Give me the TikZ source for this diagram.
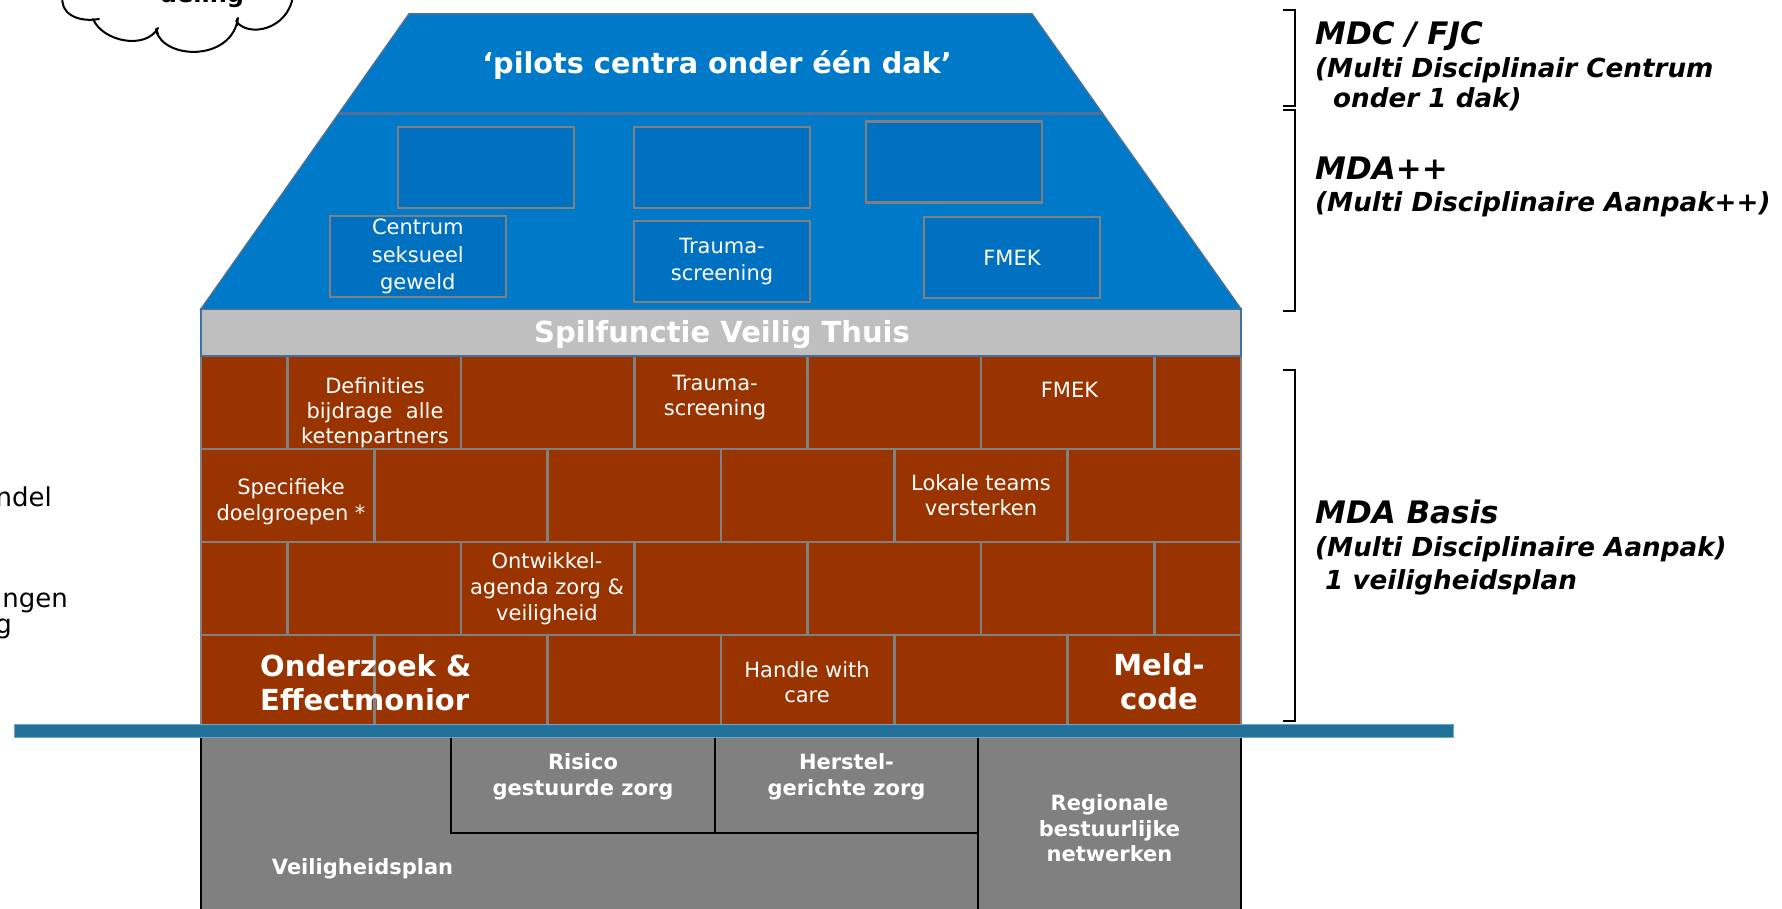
\documentclass[tikz,border=0pt]{standalone}
\usepackage{fontspec}
\setmainfont{DejaVu Sans}[BoldFont={DejaVu Sans Bold},ItalicFont={DejaVu Sans Oblique},BoldItalicFont={DejaVu Sans Bold Oblique}]
\definecolor{roofblue}{RGB}{0,122,200}
\definecolor{boxblue}{RGB}{0,112,192}
\definecolor{boxgray}{RGB}{128,128,128}
\definecolor{roofedge}{RGB}{65,113,156}
\definecolor{midline}{RGB}{80,112,150}
\definecolor{bandgray}{RGB}{191,191,191}
\definecolor{brickred}{RGB}{153,51,0}
\definecolor{brickgray}{RGB}{128,128,128}
\definecolor{fndgray}{RGB}{128,128,128}
\definecolor{groundblue}{RGB}{33,113,153}
\definecolor{groundedge}{RGB}{110,165,200}
\begin{document}
\begin{tikzpicture}[x=1pt,y=-1pt,
  roofbox/.style={draw=boxgray, line width=2.5pt, fill=boxblue, minimum width=176pt, minimum height=81pt, inner sep=0pt, text=white, font=\fontsize{21}{27.5}\selectfont, align=center},
  bricktxt/.style={text=white, font=\fontsize{21}{25}\selectfont, align=center, inner sep=0pt},
  bigtxt/.style={text=white, font=\bfseries\fontsize{29}{34}\selectfont, inner sep=0pt},
  fndtxt/.style={text=white, font=\bfseries\fontsize{21}{26.5}\selectfont, align=center, inner sep=0pt},
  sidehead/.style={anchor=base west, font=\bfseries\itshape\fontsize{31}{36}\selectfont, inner sep=0pt},
  sidesub/.style={anchor=base west, font=\bfseries\itshape\fontsize{26.2}{30}\selectfont, inner sep=0pt},
  lefttxt/.style={anchor=base east, font=\fontsize{26}{30}\selectfont, inner sep=0pt},
  bracketline/.style={line width=2pt, black},
  brickcell/.style={fill=brickred, draw=brickgray, line width=2.5pt},
  fndline/.style={black, line width=1.2pt},
  cloudline/.style={black, line width=2pt, line cap=round}
]
\useasboundingbox (0,0) rectangle (1782,909);
\fill[white] (0,0) rectangle (1782,909);

% foundation
\fill[fndgray] (201,730) rectangle (1241,909);
\draw[fndline] (201,730) -- (201,909);
\draw[fndline] (1241,730) -- (1241,909);
\draw[fndline] (451,730) -- (451,833) -- (978,833);
\draw[fndline] (715,730) -- (715,833);
\draw[fndline] (978,730) -- (978,909);

% bricks
\foreach \a/\b in {201/287.7, 287.7/461, 461/634.3, 634.3/807.7, 807.7/981, 981/1154.3, 1154.3/1241}{
  \draw[brickcell] (\a,356) rectangle (\b,449);
  \draw[brickcell] (\a,542) rectangle (\b,635);
}
\foreach \a/\b in {201/374.3, 374.3/547.7, 547.7/721, 721/894.3, 894.3/1067.7, 1067.7/1241}{
  \draw[brickcell] (\a,449) rectangle (\b,542);
  \draw[brickcell] (\a,635) rectangle (\b,726);
}

% band
\draw[fill=bandgray, draw=roofedge, line width=1.5pt] (201,309) rectangle (1241,356);
\node[text=white, font=\bfseries\fontsize{29}{34}\selectfont, inner sep=0pt] (spil) at (722,334.5) {Spilfunctie Veilig Thuis};

% roof
\draw[fill=roofblue, draw=roofedge, line width=1.5pt] (409,14) -- (1032,14) -- (1241,309) -- (201,309) -- cycle;
\draw[midline, line width=3pt] (338.5,114) -- (1102.8,114);
\node[text=white, font=\bfseries\fontsize{28.7}{34}\selectfont, inner sep=0pt] (title) at (717,65) {‘pilots centra onder één dak’};

\node[roofbox] (rb1) at (485.9,167.5) {};
\node[roofbox] (rb2) at (722,167.5) {};
\node[roofbox] (rb3) at (954,162) {};
\node[roofbox] (rcsg) at (417.8,256.5) {\raisebox{-2pt}{\parbox{170pt}{\centering Centrum\\seksueel\\geweld}}};
\node[roofbox] (rtrauma) at (722,261.5) {\raisebox{-1pt}{\parbox{170pt}{\centering Trauma-\\screening}}};
\node[roofbox] (rfmek) at (1012,257.5) {FMEK};

% ground line
\draw[fill=groundblue, draw=groundedge, line width=1pt] (14,724) rectangle (1453,737);

% brick texts
\node[bricktxt] (def) at (375,412.5) {Definities\\bijdrage~~alle\\ketenpartners};
\node[bricktxt] (btrauma) at (715,397.5) {Trauma-\\screening};
\node[bricktxt] (bfmek) at (1069.5,390) {FMEK};
\node[bricktxt, font=\fontsize{21}{26.5}\selectfont] (spec) at (291,501.5) {Specifieke\\doelgroepen *};
\node[bricktxt] (lokale) at (981,495.5) {Lokale teams\\versterken};
\node[bricktxt, font=\fontsize{21}{26}\selectfont] (ontw) at (547,589) {Ontwikkel-\\agenda zorg \&\\veiligheid};
\node[bricktxt] (handle) at (807,682) {Handle with\\care};
\node[bigtxt, align=left, anchor=west] (onder) at (260,683) {Onderzoek \&\\Effectmonior};
\node[bigtxt, align=center] (meld) at (1159,682) {Meld-\\code};

% foundation texts
\node[fndtxt] (risico) at (583,777) {Risico\\gestuurde zorg};
\node[fndtxt] (herstel) at (846.5,777) {Herstel-\\gerichte zorg};
\node[fndtxt, font=\bfseries\fontsize{21}{25.5}\selectfont] (regio) at (1109.5,828.5) {Regionale\\bestuurlijke\\netwerken};
\node[fndtxt] (veilig) at (362.5,869) {Veiligheidsplan};

% brackets
\coordinate (b1a) at (1283,10); \coordinate (b1b) at (1295,10);
\coordinate (b1c) at (1295,106); \coordinate (b1d) at (1283,106);
\draw[bracketline] (b1a) -- (b1b) -- (b1c) -- (b1d);
\coordinate (b2a) at (1283,110); \coordinate (b2b) at (1295,110);
\coordinate (b2c) at (1295,311); \coordinate (b2d) at (1283,311);
\draw[bracketline] (b2a) -- (b2b) -- (b2c) -- (b2d);
\coordinate (b3a) at (1283,370); \coordinate (b3b) at (1295,370);
\coordinate (b3c) at (1295,721); \coordinate (b3d) at (1283,721);
\draw[bracketline] (b3a) -- (b3b) -- (b3c) -- (b3d);

% side texts
\node[sidehead] (mdc) at (1315,45) {MDC / FJC};
\node[sidesub] (mdc2) at (1315,78) {(Multi Disciplinair Centrum};
\node[sidesub] (mdc3) at (1333,108) {onder 1 dak)};
\node[sidehead] (mdapp) at (1315,180) {MDA++};
\node[sidesub] (mdapp2) at (1315,212) {(Multi Disciplinaire Aanpak++)};
\node[sidehead] (mdab) at (1315,523) {MDA Basis};
\node[sidesub] (mdab2) at (1315,556) {(Multi Disciplinaire Aanpak)};
\node[sidesub] (mdab3) at (1325,589) {1 veiligheidsplan};

% left partial texts
\node[lefttxt] (l1) at (52,506) {ndel};
\node[lefttxt] (l2) at (68,607) {ngen};
\node[lefttxt] (l3) at (12,633) {g};

% cloud
\draw[cloudline] (63,-4) .. controls (59,12) and (76,23) .. (99,19);
\draw[cloudline] (93,19) .. controls (103,42) and (146,50) .. (158,28);
\draw[cloudline] (156,30) .. controls (163,60) and (232,62) .. (238,18);
\draw[cloudline] (236,21) .. controls (248,38) and (288,30) .. (293,-4);
\draw[cloudline] (156,29) -- (158,34);
\draw[cloudline] (237,19) -- (237.5,25);
\node[anchor=base, font=\bfseries\fontsize{24}{28}\selectfont, inner sep=0pt] (cloudtxt) at (202,2.5) {deling};
\end{tikzpicture}
\end{document}
